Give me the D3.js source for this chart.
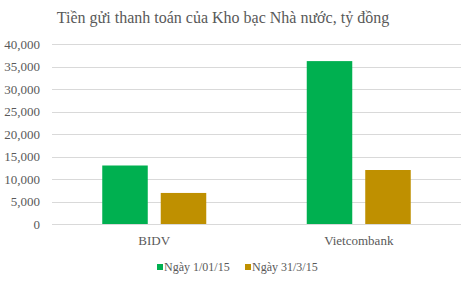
<!DOCTYPE html>
<html>
<head>
<meta charset="utf-8">
<script src="https://cdn.jsdelivr.net/npm/d3@7"></script>
<style>
  body { margin: 0; background: #fff; }
  svg text { font-family: "Liberation Serif", "Times New Roman", serif; }
</style>
</head>
<body>
<svg width="474" height="285"></svg>
<script>
var title = "Tiền gửi thanh toán của Kho bạc Nhà nước, tỷ đồng";
var categories = ["BIDV", "Vietcombank"];
var seriesNames = ["Ngày 1/01/15", "Ngày 31/3/15"];
var jan = [13000, 36200];
var mar = [6900, 12000];
var yTicks = [0, 5000, 10000, 15000, 20000, 25000, 30000, 35000, 40000];
var colors = ["#00B050", "#BF9000"];

var margin = {top: 44, right: 13, bottom: 61, left: 52};
var width = 474 - margin.left - margin.right;
var height = 285 - margin.top - margin.bottom;
var serif = "'Liberation Serif', 'Times New Roman', serif";

var svg = d3.select("svg");

svg.append("text")
  .attr("x", 223).attr("y", 23)
  .attr("text-anchor", "middle")
  .style("font-size", "16px")
  .style("fill", "#595959")
  .text(title);

var g = svg.append("g").attr("transform", "translate(" + margin.left + "," + margin.top + ")");

var x = d3.scaleBand().domain(categories).range([0, width]);
var x1 = d3.scaleBand().domain([0, 1]).range([0, 104]).paddingInner(0.222);
var y = d3.scaleLinear().domain([0, 40000]).range([height, 0]);

// gridlines
g.selectAll("line.grid").data(yTicks).enter().append("line")
  .attr("x1", 0).attr("x2", width)
  .attr("y1", function(d) { return Math.round(y(d)) + 0.5; })
  .attr("y2", function(d) { return Math.round(y(d)) + 0.5; })
  .style("stroke", "#D9D9D9");

// y axis labels
var yAxis = g.append("g").call(d3.axisLeft(y).tickValues(yTicks).tickFormat(d3.format(",")).tickSize(0).tickPadding(12));
yAxis.attr("font-family", null);
yAxis.select(".domain").remove();
yAxis.selectAll("text").style("font-size", "13px").style("fill", "#595959").style("font-family", serif);

// bars
var data = categories.map(function(c, i) { return {cat: c, vals: [jan[i], mar[i]]}; });
var groups = g.selectAll("g.cat").data(data).enter().append("g")
  .attr("transform", function(d) { return "translate(" + (x(d.cat) + x.bandwidth() / 2 - 52) + ",0)"; });
groups.selectAll("rect").data(function(d) { return d.vals; }).enter().append("rect")
  .attr("x", function(d, i) { return x1(i); })
  .attr("width", x1.bandwidth())
  .attr("y", function(d) { return y(d); })
  .attr("height", function(d) { return height - y(d); })
  .style("fill", function(d, i) { return colors[i]; });

// x axis
var xAxis = g.append("g").attr("transform", "translate(0," + height + ")")
  .call(d3.axisBottom(x).tickSize(0).tickPadding(12));
xAxis.attr("font-family", null);
xAxis.select(".domain").remove();
xAxis.selectAll("text").style("font-size", "13px").style("fill", "#595959").style("font-family", serif);

// legend
var legendX = [157, 245];
var legend = svg.append("g");
seriesNames.forEach(function(name, i) {
  legend.append("rect").attr("x", legendX[i]).attr("y", 264).attr("width", 6).attr("height", 6).style("fill", colors[i]);
  legend.append("text").attr("x", legendX[i] + 7).attr("y", 271)
    .style("font-size", "12px").style("fill", "#595959").style("font-family", serif).text(name);
});
</script>
</body>
</html>
